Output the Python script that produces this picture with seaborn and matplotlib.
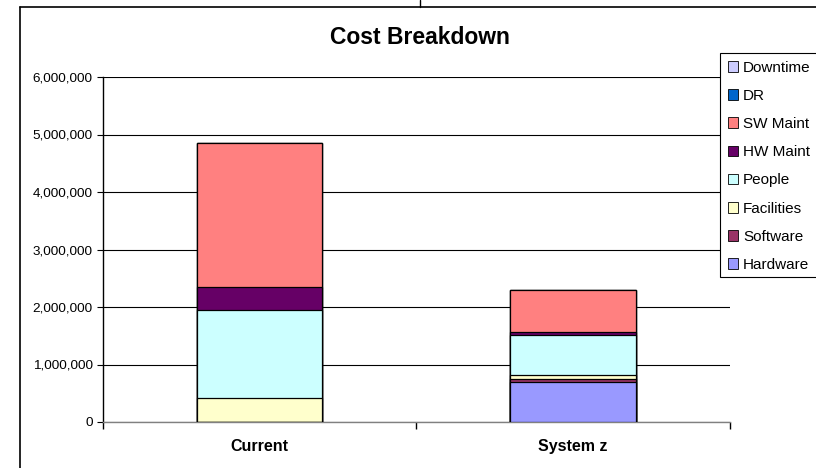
import numpy as np
import pandas as pd
import matplotlib
matplotlib.use("Agg")
import matplotlib.pyplot as plt
import seaborn as sns
from matplotlib.lines import Line2D
from matplotlib.patches import Patch, Rectangle
from matplotlib.ticker import FuncFormatter, FixedLocator

# ==========================================
# Data
# ==========================================
systems = ["Current", "System z"]
components = ["Hardware", "Software", "Facilities", "People",
              "HW Maint", "SW Maint", "DR", "Downtime"]
hardware = [0, 690000]
software = [0, 60000]
facilities = [420000, 70000]
people = [1530000, 690000]
hw_maint = [400000, 50000]
sw_maint = [2500000, 730000]
dr = [0, 0]
downtime = [0, 0]

colors = ["#9999FF", "#993366", "#FFFFCC", "#CCFFFF",
          "#660066", "#FF8080", "#0066CC", "#CCCCFF"]

df = pd.DataFrame({
    "System": systems,
    "Hardware": hardware,
    "Software": software,
    "Facilities": facilities,
    "People": people,
    "HW Maint": hw_maint,
    "SW Maint": sw_maint,
    "DR": dr,
    "Downtime": downtime,
})
cum = df[components].cumsum(axis=1)
cum["System"] = df["System"]

# ==========================================
# Plot
# ==========================================
sns.set_style("white")
plt.rcParams["font.family"] = ["Liberation Sans", "DejaVu Sans"]
plt.rcParams["text.color"] = "black"
plt.rcParams["xtick.color"] = "black"
plt.rcParams["ytick.color"] = "black"

fig = plt.figure(figsize=(8.16, 4.68), dpi=100)
ax = fig.add_axes([103.3 / 816, 1 - 422 / 468, (729.5 - 103.3) / 816, (422 - 77) / 468])

# stacked bars: draw cumulative totals from the top layer down
for comp, col in reversed(list(zip(components, colors))):
    sns.barplot(data=cum, x="System", y=comp, color=col, width=0.4,
                edgecolor="black", linewidth=0.9, saturation=1, ax=ax, zorder=3)

ax.set_ylim(0, 6000000)
ax.set_xlim(-0.5, 1.5)
ax.set_xlabel("")
ax.set_ylabel("")
ax.yaxis.set_major_locator(FixedLocator(np.arange(0, 6000001, 1000000)))
ax.yaxis.set_major_formatter(FuncFormatter(lambda v, p: f"{int(v):,}"))
ax.tick_params(axis="y", labelsize=9.7, length=4, width=0.8, direction="out",
               left=True, pad=3.6, colors="black")
ax.grid(axis="y", color="black", linewidth=0.8, zorder=0)
ax.set_axisbelow(True)

ax.set_xticks([0, 1])
ax.set_xticklabels(systems, fontsize=11.5, fontweight="bold", color="black")
ax.tick_params(axis="x", length=0, pad=12)
ax.set_xticks([-0.5, 0.5, 1.5], minor=True)
ax.tick_params(axis="x", which="minor", length=5, width=1, direction="out", bottom=True)

for side in ["top", "right"]:
    ax.spines[side].set_visible(False)
ax.spines["left"].set_color("black")
ax.spines["left"].set_linewidth(1)
ax.spines["bottom"].set_color("#808080")
ax.spines["bottom"].set_linewidth(1)

fig.text(420 / 816, 1 - 38 / 468, "Cost Breakdown", ha="center", va="center",
         fontsize=16.5, fontweight="bold", color="black")

handles = [Patch(facecolor=c, edgecolor="black", linewidth=0.6, label=n)
           for n, c in zip(components, colors)][::-1]
leg = fig.legend(handles=handles, loc="upper left",
                 bbox_to_anchor=(720 / 816, 1 - 53 / 468), frameon=False,
                 fontsize=11, handlelength=0.7, handleheight=0.7,
                 handletextpad=0.3, labelspacing=0.93, borderpad=0.5,
                 borderaxespad=0)
leg.set_zorder(6)
# legend box runs off the right edge of the picture
fig.add_artist(Rectangle((720 / 816, 1 - 277 / 468), 120 / 816, (277 - 53) / 468,
                         transform=fig.transFigure, facecolor="white",
                         edgecolor="black", linewidth=0.8, zorder=5))

# outer frame of the chart object
fig.add_artist(Line2D([19.5 / 816, 1], [1 - 7 / 468] * 2, color="black", linewidth=1.2))
fig.add_artist(Line2D([19.5 / 816] * 2, [0, 1 - 7 / 468], color="black", linewidth=1.2))
fig.add_artist(Line2D([420 / 816] * 2, [1 - 7 / 468, 1], color="black", linewidth=1))

fig.savefig("out.png", dpi=100)
